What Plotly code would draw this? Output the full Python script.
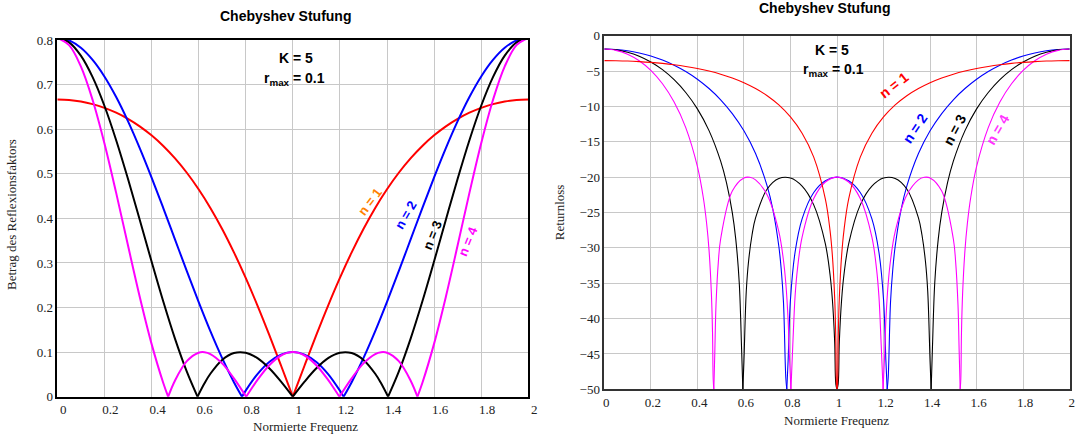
import plotly.graph_objects as go

# ---------------- data ----------------
# Left panel: magnitude of reflection coefficient vs normalised frequency
# (None separates the arches between the nulls)
f_refl_n1 = [0.0, 0.05, 0.1, 0.15, 0.2, 0.25, 0.3, 0.35, 0.4, 0.45, 0.5, 0.55, 0.6, 0.65, 0.7, 0.75, 0.8, 0.85, 0.9, 0.95, 1.0, None,
             1.0, 1.05, 1.1, 1.15, 1.2, 1.25, 1.3, 1.35, 1.4, 1.45, 1.5, 1.55, 1.6, 1.65, 1.7, 1.75, 1.8, 1.85, 1.9, 1.95, 2.0]
refl_n1 = [0.6667, 0.6655, 0.6621, 0.6562, 0.6479, 0.6370, 0.6232, 0.6064, 0.5862, 0.5624, 0.5345, 0.5023, 0.4653, 0.4234, 0.3762, 0.3238, 0.2664, 0.2044, 0.1386, 0.0700, 0.0, None,
           0.0, 0.0700, 0.1386, 0.2044, 0.2664, 0.3238, 0.3762, 0.4234, 0.4653, 0.5023, 0.5345, 0.5624, 0.5862, 0.6064, 0.6232, 0.6370, 0.6479, 0.6562, 0.6621, 0.6655, 0.6667]

f_refl_n2 = [0.0, 0.05, 0.1, 0.15, 0.2, 0.25, 0.3, 0.35, 0.4, 0.45, 0.5, 0.55, 0.6, 0.65, 0.7, 0.75, 0.7843, None,
             0.7843, 0.8, 0.85, 0.9, 0.95, 1.0, 1.05, 1.1, 1.15, 1.2, 1.2157, None,
             1.2157, 1.25, 1.3, 1.35, 1.4, 1.45, 1.5, 1.55, 1.6, 1.65, 1.7, 1.75, 1.8, 1.85, 1.9, 1.95, 2.0]
refl_n2 = [0.8047, 0.7991, 0.7826, 0.7554, 0.7183, 0.6722, 0.6182, 0.5577, 0.4921, 0.4231, 0.3523, 0.2816, 0.2126, 0.1470, 0.0865, 0.0325, 0.0, None,
           0.0, 0.0136, 0.0507, 0.0779, 0.0944, 0.1, 0.0944, 0.0779, 0.0507, 0.0136, 0.0, None,
           0.0, 0.0325, 0.0865, 0.1470, 0.2126, 0.2816, 0.3523, 0.4231, 0.4921, 0.5577, 0.6182, 0.6722, 0.7183, 0.7554, 0.7826, 0.7991, 0.8047]

f_refl_n3 = [0.0, 0.05, 0.1, 0.15, 0.2, 0.25, 0.3, 0.35, 0.4, 0.45, 0.5, 0.55, 0.5954, None,
             0.5954, 0.625, 0.65, 0.7, 0.75, 0.8, 0.85, 0.9, 0.95, 1.0, None,
             1.0, 1.05, 1.1, 1.15, 1.2, 1.25, 1.3, 1.35, 1.375, 1.4046, None,
             1.4046, 1.45, 1.5, 1.55, 1.6, 1.65, 1.7, 1.75, 1.8, 1.85, 1.9, 1.95, 2.0]
refl_n3 = [0.8047, 0.7946, 0.7648, 0.7166, 0.6525, 0.5753, 0.4888, 0.3969, 0.3037, 0.2134, 0.1297, 0.0561, 0.0, None,
           0.0, 0.0301, 0.0515, 0.0825, 0.0979, 0.0986, 0.0864, 0.0637, 0.0337, 0.0, None,
           0.0, 0.0337, 0.0637, 0.0864, 0.0986, 0.0979, 0.0825, 0.0515, 0.0301, 0.0, None,
           0.0, 0.0561, 0.1297, 0.2134, 0.3037, 0.3969, 0.4888, 0.5753, 0.6525, 0.7166, 0.7648, 0.7946, 0.8047]

f_refl_n4 = [0.0, 0.05, 0.1, 0.15, 0.2, 0.25, 0.3, 0.35, 0.4, 0.45, 0.4707, None,
             0.4707, 0.5, 0.55, 0.6, 0.625, 0.65, 0.7, 0.75, 0.802, None,
             0.802, 0.825, 0.85, 0.9, 0.95, 1.0, 1.05, 1.1, 1.15, 1.175, 1.198, None,
             1.198, 1.25, 1.3, 1.35, 1.375, 1.4, 1.45, 1.5, 1.5293, None,
             1.5293, 1.55, 1.6, 1.65, 1.7, 1.75, 1.8, 1.85, 1.9, 1.95, 2.0]
refl_n4 = [0.8047, 0.7884, 0.7408, 0.6655, 0.5685, 0.4571, 0.3395, 0.2242, 0.1190, 0.0306, 0.0, None,
           0.0, 0.0365, 0.0797, 0.0987, 0.0998, 0.0957, 0.0747, 0.0412, 0.0, None,
           0.0, 0.0185, 0.0376, 0.0706, 0.0924, 0.1, 0.0924, 0.0706, 0.0376, 0.0185, 0.0, None,
           0.0, 0.0412, 0.0747, 0.0957, 0.0998, 0.0987, 0.0797, 0.0365, 0.0, None,
           0.0, 0.0306, 0.1190, 0.2242, 0.3395, 0.4571, 0.5685, 0.6655, 0.7408, 0.7884, 0.8047]

# Right panel: return loss in dB (curves shown down to the -50 dB floor)
f_rl_n1 = [0.0, 0.05, 0.1, 0.15, 0.2, 0.25, 0.3, 0.35, 0.4, 0.45, 0.5, 0.55, 0.6, 0.65, 0.7, 0.75, 0.8, 0.85, 0.9, 0.95, 0.97, 0.98, 0.99, 0.995, 0.9975, 1.0, None,
           1.0, 1.0025, 1.005, 1.01, 1.02, 1.03, 1.05, 1.1, 1.15, 1.2, 1.25, 1.3, 1.35, 1.4, 1.45, 1.5, 1.55, 1.6, 1.65, 1.7, 1.75, 1.8, 1.85, 1.9, 1.95, 2.0]
rl_n1 = [-3.52, -3.54, -3.58, -3.66, -3.77, -3.92, -4.11, -4.35, -4.64, -5.00, -5.44, -5.98, -6.65, -7.47, -8.49, -9.79, -11.49, -13.79, -17.17, -23.10, -27.52, -31.03, -37.05, -43.07, -49.09, -50.0, None,
         -50.0, -49.09, -43.07, -37.05, -31.03, -27.52, -23.10, -17.17, -13.79, -11.49, -9.79, -8.49, -7.47, -6.65, -5.98, -5.44, -5.00, -4.64, -4.35, -4.11, -3.92, -3.77, -3.66, -3.58, -3.54, -3.52]

f_rl_n2 = [0.0, 0.05, 0.1, 0.15, 0.2, 0.25, 0.3, 0.35, 0.4, 0.45, 0.5, 0.55, 0.6, 0.65, 0.7, 0.725, 0.75, 0.76, 0.77, 0.78, 0.7843, None,
           0.7843, 0.79, 0.8, 0.82, 0.85, 0.9, 0.95, 1.0, 1.05, 1.1, 1.15, 1.18, 1.2, 1.21, 1.2157, None,
           1.2157, 1.22, 1.23, 1.24, 1.25, 1.275, 1.3, 1.35, 1.4, 1.45, 1.5, 1.55, 1.6, 1.65, 1.7, 1.75, 1.8, 1.85, 1.9, 1.95, 2.0]
rl_n2 = [-1.89, -1.95, -2.13, -2.44, -2.87, -3.45, -4.18, -5.07, -6.16, -7.47, -9.06, -11.01, -13.45, -16.66, -21.26, -24.65, -29.77, -32.92, -37.70, -48.38, -50.0, None,
         -50.0, -45.89, -37.32, -30.58, -25.90, -22.17, -20.50, -20.0, -20.50, -22.17, -25.90, -30.58, -37.32, -45.89, -50.0, None,
         -50.0, -48.38, -37.70, -32.92, -29.77, -24.65, -21.26, -16.66, -13.45, -11.01, -9.06, -7.47, -6.16, -5.07, -4.18, -3.45, -2.87, -2.44, -2.13, -1.95, -1.89]

f_rl_n3 = [0.0, 0.05, 0.1, 0.15, 0.2, 0.25, 0.3, 0.35, 0.4, 0.45, 0.5, 0.525, 0.55, 0.565, 0.58, 0.59, 0.5954, None,
           0.5954, 0.6, 0.61, 0.62, 0.635, 0.65, 0.7, 0.75, 0.8, 0.85, 0.9, 0.95, 0.97, 0.98, 0.99, 0.995, 1.0, None,
           1.0, 1.005, 1.01, 1.02, 1.03, 1.05, 1.1, 1.15, 1.2, 1.25, 1.3, 1.35, 1.365, 1.38, 1.39, 1.4, 1.4046, None,
           1.4046, 1.41, 1.42, 1.435, 1.45, 1.475, 1.5, 1.55, 1.6, 1.65, 1.7, 1.75, 1.8, 1.85, 1.9, 1.95, 2.0]
rl_n3 = [-1.89, -2.00, -2.33, -2.89, -3.71, -4.80, -6.22, -8.03, -10.35, -13.42, -17.74, -20.78, -25.03, -28.80, -35.00, -44.28, -50.0, None,
         -50.0, -46.06, -36.20, -31.90, -28.15, -25.77, -21.68, -20.19, -20.12, -21.27, -23.92, -29.44, -33.77, -37.26, -43.26, -49.28, -50.0, None,
         -50.0, -49.28, -43.26, -37.26, -33.77, -29.44, -23.92, -21.27, -20.12, -20.19, -21.68, -25.77, -28.15, -31.90, -36.20, -46.06, -50.0, None,
         -50.0, -44.28, -35.00, -28.80, -25.03, -20.78, -17.74, -13.42, -10.35, -8.03, -6.22, -4.80, -3.71, -2.89, -2.33, -2.00, -1.89]

f_rl_n4 = [0.0, 0.05, 0.1, 0.15, 0.2, 0.25, 0.3, 0.35, 0.4, 0.425, 0.44, 0.45, 0.46, 0.465, 0.468, 0.4707, None,
           0.4707, 0.475, 0.48, 0.49, 0.5, 0.55, 0.6, 0.625, 0.65, 0.7, 0.75, 0.77, 0.78, 0.79, 0.795, 0.802, None,
           0.802, 0.81, 0.82, 0.83, 0.85, 0.9, 0.95, 1.0, 1.05, 1.1, 1.15, 1.17, 1.18, 1.19, 1.198, None,
           1.198, 1.205, 1.21, 1.22, 1.23, 1.25, 1.3, 1.35, 1.375, 1.4, 1.45, 1.5, 1.51, 1.52, 1.525, 1.5293, None,
           1.5293, 1.532, 1.535, 1.54, 1.55, 1.56, 1.575, 1.6, 1.65, 1.7, 1.75, 1.8, 1.85, 1.9, 1.95, 2.0]
rl_n4 = [-1.89, -2.07, -2.61, -3.54, -4.91, -6.80, -9.38, -12.99, -18.49, -22.81, -26.62, -30.29, -36.29, -41.90, -48.59, -50.0, None,
         -50.0, -44.65, -38.09, -32.05, -28.75, -21.97, -20.11, -20.02, -20.38, -22.53, -27.70, -31.79, -35.01, -40.26, -44.96, -50.0, None,
         -50.0, -43.77, -36.78, -33.00, -28.49, -23.03, -20.69, -20.0, -20.69, -23.03, -28.49, -33.00, -36.78, -43.77, -50.0, None,
         -50.0, -44.96, -40.26, -35.01, -31.79, -27.70, -22.53, -20.38, -20.02, -20.11, -21.97, -28.75, -32.05, -38.09, -44.65, -50.0, None,
         -50.0, -48.59, -41.90, -36.29, -30.29, -26.62, -22.81, -18.49, -12.99, -9.38, -6.80, -4.91, -3.54, -2.61, -2.07, -1.89]

curve_names = ["n = 1", "n = 2", "n = 3", "n = 4"]
curve_colors = ["#ff0000", "#0000ff", "#000000", "#ff00ff"]

# ---------------- figure ----------------
W, H = 1077, 436
SANS = "Liberation Sans, Arial, sans-serif"
SERIF = "Liberation Serif, Times New Roman, serif"

def px_x(x):
    return x / W

def px_y(y):
    return 1 - y / H

fig = go.Figure()

left_sets = [(f_refl_n1, refl_n1), (f_refl_n2, refl_n2), (f_refl_n3, refl_n3), (f_refl_n4, refl_n4)]
right_sets = [(f_rl_n2, rl_n2), (f_rl_n3, rl_n3), (f_rl_n4, rl_n4), (f_rl_n1, rl_n1)]
right_colors = [curve_colors[1], curve_colors[2], curve_colors[3], curve_colors[0]]
right_names = [curve_names[1], curve_names[2], curve_names[3], curve_names[0]]

for (fx, fy), col, nm in zip(left_sets, curve_colors, curve_names):
    fig.add_trace(go.Scatter(x=fx, y=fy, mode="lines", name=nm, xaxis="x", yaxis="y",
                             line=dict(color=col, width=2, shape="spline"), connectgaps=False,
                             showlegend=False, hoverinfo="skip"))

for (fx, fy), col, nm in zip(right_sets, right_colors, right_names):
    fig.add_trace(go.Scatter(x=fx, y=fy, mode="lines", name=nm, xaxis="x2", yaxis="y2",
                             line=dict(color=col, width=1.1, shape="spline"), connectgaps=False,
                             showlegend=False, hoverinfo="skip"))

axis_common = dict(showgrid=True, gridcolor="#c8c8c8", gridwidth=1, zeroline=False,
                   showline=True, mirror=True, ticks="", automargin=False,
                   tickfont=dict(family=SERIF, size=13, color="#222222"))

fig.update_layout(
    width=W, height=H,
    margin=dict(l=0, r=0, t=0, b=0, pad=0, autoexpand=False),
    paper_bgcolor="white", plot_bgcolor="white",
    showlegend=False,
    xaxis=dict(domain=[px_x(57.3), px_x(528.3)], range=[0, 2], tick0=0, dtick=0.2, anchor="y",
               linecolor="#000000", linewidth=1.5, ticklabelshift=6, **axis_common),
    yaxis=dict(domain=[px_y(396.7), px_y(40)], range=[0, 0.8], tick0=0, dtick=0.1, anchor="x",
               linecolor="#000000", linewidth=1.5, **axis_common),
    xaxis2=dict(domain=[px_x(604.3), px_x(1069.7)], range=[0, 2], tick0=0, dtick=0.2, anchor="y2",
                linecolor="#333333", linewidth=1.5, ticklabelshift=2, **axis_common),
    yaxis2=dict(domain=[px_y(389.3), px_y(35.7)], range=[-50, 0], tick0=0, dtick=5, anchor="x2",
                linecolor="#333333", linewidth=1.5, **axis_common),
)

ann = []

def add_text(x, y, text, size, color="#000000", family=SANS, angle=0, bold=False):
    t = "<b>" + text + "</b>" if bold else text
    ann.append(dict(x=px_x(x), y=px_y(y), xref="paper", yref="paper", text=t, showarrow=False,
                    xanchor="center", yanchor="middle", textangle=angle,
                    font=dict(family=family, size=size, color=color)))

# titles
add_text(285.2, 15.7, "Chebyshev Stufung", 14, bold=True)
add_text(824.8, 7.5, "Chebyshev Stufung", 14, bold=True)
# axis titles
add_text(305.8, 426.7, "Normierte Frequenz", 13, color="#222222", family=SERIF)
add_text(836.8, 420.5, "Normierte Frequenz", 13, color="#222222", family=SERIF)
add_text(11, 215, "Betrag des Reflexionsfaktors", 13, color="#222222", family=SERIF, angle=-90)
add_text(559.5, 212.7, "Returnloss", 13, color="#222222", family=SERIF, angle=-90)
# parameter boxes
add_text(296, 58.3, "K = 5", 14, bold=True)
add_text(294.5, 79.3, "r<sub>max</sub> = 0.1", 14, bold=True)
add_text(832, 49.7, "K = 5", 14, bold=True)
add_text(833.4, 70.3, "r<sub>max</sub> = 0.1", 14, bold=True)
# curve labels, left panel
add_text(370.3, 201.7, "n = 1", 13, color="#ff8000", angle=-53, bold=True)
add_text(405.5, 215.5, "n = 2", 13, color="#0000ff", angle=-60, bold=True)
add_text(432.0, 235.0, "n = 3", 13, color="#000000", angle=-68, bold=True)
add_text(468.0, 241.7, "n = 4", 13, color="#ff00ff", angle=-68, bold=True)
# curve labels, right panel
add_text(894.3, 85.5, "n = 1", 14, color="#ff0000", angle=-38, bold=True)
add_text(915.5, 128.3, "n = 2", 14, color="#0000ff", angle=-56, bold=True)
add_text(954.2, 129.5, "n = 3", 14, color="#000000", angle=-62, bold=True)
add_text(997.0, 129.5, "n = 4", 14, color="#ff33ff", angle=-60, bold=True)

fig.update_layout(annotations=ann)

fig.write_html("out.html")
